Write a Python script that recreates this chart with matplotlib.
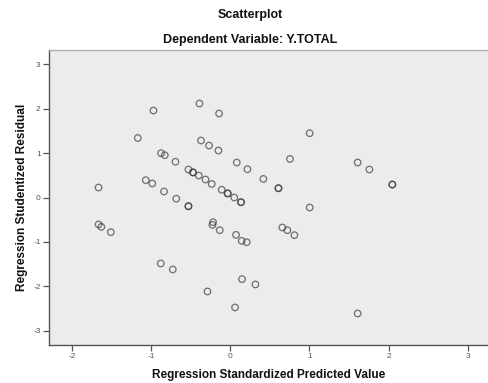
import matplotlib
matplotlib.use("Agg")
import matplotlib.pyplot as plt

# Regression standardized predicted value (x) and studentized residual (y)
pred = [-1.664, -0.970, -1.168, -0.874, -1.067, -0.985, -0.389, -0.141, 1.004,
        -0.369, -0.268, -0.149, -0.827, -0.692, 0.082, 0.217, 0.755, -0.528,
        -0.470, -0.470, -0.398, -0.313, -0.234, 0.419, 0.609, 0.609, -0.836,
        -0.682, -0.528, -0.528, -0.107, -0.032, -0.032, 0.051, 0.136, 0.136,
        1.004, 1.610, 1.758, 2.048, 2.048, -1.664, -1.629, -1.509, -0.878,
        -0.726, -0.217, -0.225, -0.133, 0.073, 0.145, 0.208, 0.659, 0.722,
        0.811, 0.149, 0.318, -0.288, 0.061, 1.610]
resid = [0.225, 1.957, 1.339, 0.997, 0.389, 0.315, 2.115, 1.890, 1.447,
         1.282, 1.170, 1.057, 0.952, 0.805, 0.787, 0.637, 0.868, 0.630,
         0.565, 0.565, 0.495, 0.405, 0.304, 0.418, 0.209, 0.209, 0.135,
         -0.027, -0.196, -0.196, 0.175, 0.092, 0.092, 0.000, -0.106, -0.106,
         -0.225, 0.787, 0.630, 0.292, 0.292, -0.607, -0.661, -0.781, -1.485,
         -1.620, -0.556, -0.616, -0.736, -0.841, -0.976, -1.006, -0.675, -0.736,
         -0.848, -1.838, -1.957, -2.115, -2.475, -2.610]

x_ticks = [-2, -1, 0, 1, 2, 3]
y_ticks = [-3, -2, -1, 0, 1, 2, 3]

plt.rcParams['font.family'] = ['Liberation Sans', 'DejaVu Sans']

fig = plt.figure(figsize=(4.88, 3.83), dpi=100)
fig.patch.set_facecolor('white')
ax = fig.add_axes([49/488, 38/383, 439/488, 295/383])
ax.set_facecolor('#ececec')

ax.scatter(pred, resid, s=22, facecolors='none', edgecolors='#333333',
           linewidths=0.95, alpha=0.65, zorder=3)

ax.set_xlim(-2.29, 3.257)
ax.set_ylim(-3.32, 3.32)
ax.set_xticks(x_ticks)
ax.set_yticks(y_ticks)
ax.set_xticklabels([str(v) for v in x_ticks])
ax.set_yticklabels([str(v) for v in y_ticks])
ax.tick_params(axis='both', direction='out', length=4, width=0.9,
               color='#555555', labelcolor='#555555', labelsize=6, pad=2)

for s in ['left', 'bottom']:
    ax.spines[s].set_color('#555555')
    ax.spines[s].set_linewidth(1.0)
ax.spines['top'].set_color('#b0b0b0')
ax.spines['top'].set_linewidth(1.0)
ax.spines['right'].set_visible(False)

ax.set_xlabel('Regression Standardized Predicted Value', fontsize=8.5,
              fontweight='bold', color='#111111', labelpad=6)
ax.set_ylabel('Regression Studentized Residual', fontsize=8.5,
              fontweight='bold', color='#111111', labelpad=3.5)

fig.text(250/488, 1 - 15/383, 'Scatterplot', ha='center', va='center',
         fontsize=9, fontweight='bold', color='#111111')
fig.text(250/488, 1 - 40/383, 'Dependent Variable: Y.TOTAL', ha='center',
         va='center', fontsize=9, fontweight='bold', color='#111111')

fig.savefig('out.png', dpi=100)
